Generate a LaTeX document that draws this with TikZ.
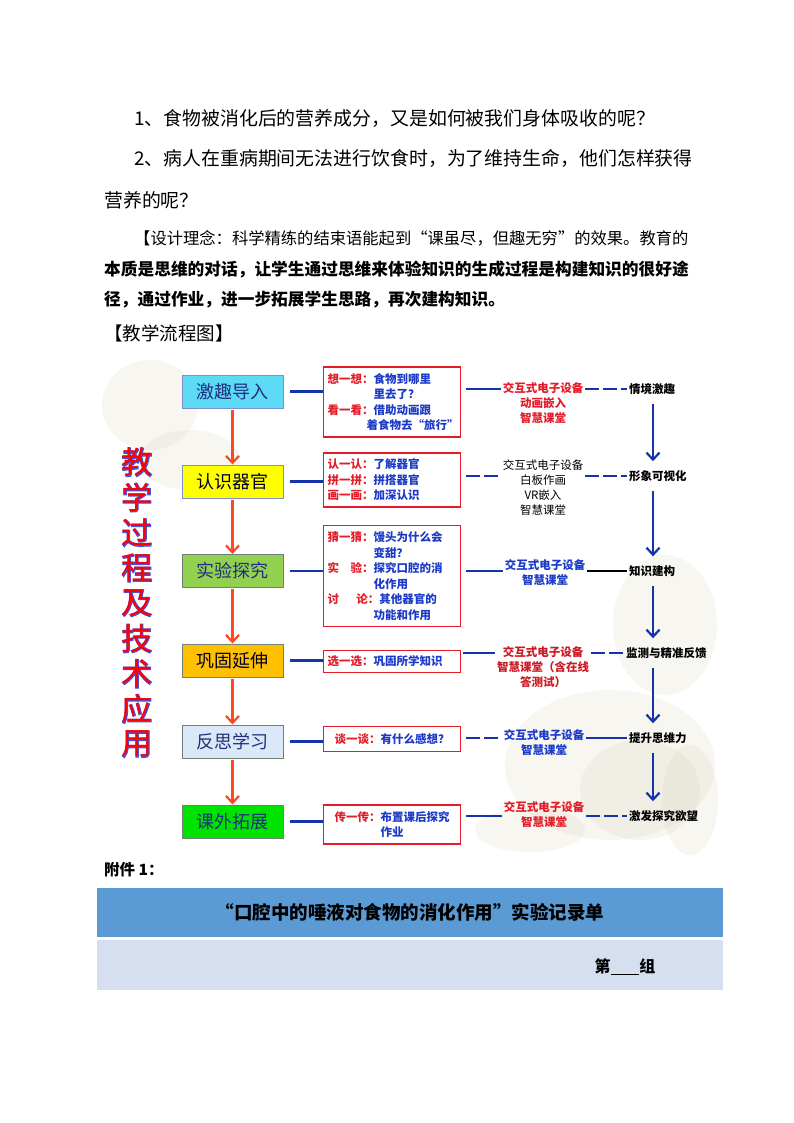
\documentclass[tikz,border=0pt]{standalone}
\usepackage{fontspec}
\setmainfont{Noto Sans CJK SC}
\newfontfamily\titlefont{Noto Sans CJK SC}[FakeBold=4]
\usepackage{xcolor}
\usetikzlibrary{calc,arrows.meta}
\definecolor{flowRed}{RGB}{255,72,32}
\definecolor{flowBlue}{RGB}{22,52,170}
\definecolor{tagRed}{RGB}{228,28,40}
\definecolor{tipBlue}{RGB}{28,58,200}
\definecolor{stageInk}{RGB}{32,48,125}
\definecolor{stageEdge}{RGB}{112,128,120}
\definecolor{stageCyan}{RGB}{92,218,246}
\definecolor{stageYellow}{RGB}{255,255,0}
\definecolor{stageLime}{RGB}{146,208,80}
\definecolor{stageOrange}{RGB}{255,192,0}
\definecolor{stagePale}{RGB}{218,232,248}
\definecolor{stageGreen}{RGB}{0,226,0}
\definecolor{washTone}{RGB}{206,202,170}
\definecolor{barBlue}{RGB}{91,155,213}
\definecolor{barPale}{RGB}{214,223,240}
\definecolor{titleEdge}{RGB}{70,80,225}
\newcommand{\Lbl}[1]{\textcolor{tagRed}{#1}}
\tikzset{
  stagebox/.style={minimum width=101pt,minimum height=33pt,inner sep=0pt,line width=1pt,draw=stageEdge,text=stageInk,font=\fontsize{18}{20}\selectfont},
  tipbox/.style={draw=tagRed,line width=1.1pt,fill=white,inner sep=4pt,text width=129pt,align=left,text=tipBlue,font=\bfseries\fontsize{11.5}{15.5}\selectfont},
  techtext/.style={align=center,inner sep=2pt,font=\bfseries\fontsize{11.5}{15}\selectfont},
  goal/.style={anchor=west,inner sep=2pt,font=\bfseries\fontsize{11.5}{14}\selectfont},
  linkline/.style={draw=flowBlue,line width=2.2pt},
  linkdash/.style={linkline,dash pattern=on 14pt off 4pt},
  flowarrow/.style={draw=flowRed,line width=2.2pt,-{Straight Barb[length=7pt,width=13pt]}},
  goalarrow/.style={draw=flowBlue,line width=2.2pt,-{Straight Barb[length=7pt,width=13pt]},shorten <=7pt,shorten >=7pt},
  titleedge/.style={inner sep=0pt,text=titleEdge,font=\titlefont\fontsize{31}{31}\selectfont},
  titlechar/.style={inner sep=0pt,text=red,font=\fontsize{31}{31}\selectfont},
  wash/.style={fill=washTone,opacity=0.16},
  prose/.style={anchor=west,inner sep=0pt,font=\fontsize{18.9}{22}\selectfont},
  notetext/.style={anchor=west,inner sep=0pt,font=\fontsize{16.7}{20}\selectfont},
}

\begin{document}
\begin{tikzpicture}[x=1pt,y=-1pt]
\useasboundingbox[fill=white] (0,0) rectangle (794,1123);

\node[prose] (q1) at (134,118) {1、食物被消化后的营养成分，又是如何被我们身体吸收的呢？};
\node[prose] (q2) at (134,158) {2、病人在重病期间无法进行饮食时，为了维持生命，他们怎样获得};
\node[prose] (q3) at (104,200) {营养的呢？};
\node[notetext,font=\fontsize{16.3}{20}\selectfont] (n1) at (134,238) {【设计理念：科学精练的结束语能起到“课虽尽，但趣无穷”的效果。教育的};
\node[notetext,font=\bfseries\fontsize{16.7}{20}\selectfont] (n2) at (104,270) {本质是思维的对话，让学生通过思维来体验知识的生成过程是构建知识的很好途};
\node[notetext,font=\bfseries\fontsize{16.7}{20}\selectfont] (n3) at (104,300) {径，通过作业，进一步拓展学生思路，再次建构知识。};
\node[notetext,font=\fontsize{18.5}{20}\selectfont] (flowtitle) at (104,333) {【教学流程图】};

\fill[wash] (150,405) ellipse (48 and 45);
\fill[wash] (190,460) ellipse (50 and 30);
\fill[wash] (665,625) ellipse (52 and 70);
\fill[wash] (610,765) ellipse (105 and 75);
\fill[wash] (640,790) ellipse (60 and 50);
\fill[wash] (690,800) ellipse (28 and 55);
\fill[wash] (530,830) ellipse (55 and 22);

\foreach \ch [count=\k] in {教,学,过,程,及,技,术,应,用}{
  \node[titleedge] (vb\k) at (137,427+35.25*\k) {\ch};
  \node[titlechar] (v\k) at (137,427+35.25*\k) {\ch};
}

\node[stagebox,fill=stageCyan,draw=flowBlue!55] (s1) at (232.5,391.5) {激趣导入};
\node[stagebox,fill=stageYellow,draw=flowBlue!55,text=black!85!blue] (s2) at (232.5,481.5) {认识器官};
\node[stagebox,fill=stageLime] (s3) at (232.5,571) {实验探究};
\node[stagebox,fill=stageOrange,text=black!85!blue] (s4) at (232.5,660.5) {巩固延伸};
\node[stagebox,fill=stagePale] (s5) at (232.5,741.5) {反思学习};
\node[stagebox,fill=stageGreen] (s6) at (232.5,821.5) {课外拓展};

\foreach \a/\b in {s1/s2,s2/s3,s3/s4,s4/s5,s5/s6}
  \draw[flowarrow,shorten <=1pt] (\a.south) -- (\b.north);

\node[tipbox,minimum height=70pt] (d1) at (392,402) {\Lbl{想一想：}食物到哪里\\\hspace*{4em}里去了？\\\Lbl{看一看：}借助动画跟\\\hspace*{3.4em}着食物去“旅行”};
\node[tipbox,minimum height=54pt] (d2) at (392,480) {\Lbl{认一认：}了解器官\\\Lbl{拼一拼：}拼搭器官\\\Lbl{画一画：}加深认识};
\node[tipbox,minimum height=101pt] (d3) at (392,576) {\Lbl{猜一猜：}馒头为什么会\\\hspace*{4em}变甜？\\\Lbl{实\hspace{1em}验：}探究口腔的消\\\hspace*{4em}化作用\\\Lbl{讨\hspace{1.5em}论：}其他器官的\\\hspace*{4em}功能和作用};
\node[tipbox,minimum height=22pt] (d4) at (392,661.5) {\Lbl{选一选：}巩固所学知识};
\node[tipbox,minimum height=25pt,align=center] (d5) at (392,739) {\Lbl{谈一谈：}有什么感想？};
\node[tipbox,minimum height=39pt,align=center] (d6) at (392,824.5) {\Lbl{传一传：}布置课后探究\\作业};

\foreach \k in {1,...,6}
  \draw[linkline,shorten <=6pt] (s\k.east) -- (s\k.east -| d\k.west);

\node[techtext,text=tagRed] (t1) at (543,403) {交互式电子设备\\动画嵌入\\智慧课堂};
\node[techtext,text=black,font=\fontsize{11.5}{15}\selectfont] (t2) at (543,488) {交互式电子设备\\白板作画\\VR嵌入\\智慧课堂};
\node[techtext,text=tipBlue] (t3) at (545,572.5) {交互式电子设备\\智慧课堂};
\node[techtext,text=tagRed!90!black] (t4) at (543,667) {交互式电子设备\\智慧课堂（含在线\\答测试）};
\node[techtext,text=tipBlue] (t5) at (544,743) {交互式电子设备\\智慧课堂};
\node[techtext,text=tagRed] (t6) at (544,815) {交互式电子设备\\智慧课堂};

\node[goal] (g1) at (627,389) {情境激趣};
\node[goal] (g2) at (627,476) {形象可视化};
\node[goal] (g3) at (627,571) {知识建构};
\node[goal] (g4) at (624,653) {监测与精准反馈};
\node[goal] (g5) at (627,738) {提升思维力};
\node[goal] (g6) at (627,816) {激发探究欲望};

\draw[linkline,shorten <=5pt] (d1.east |- g1) -- (t1.west |- g1);
\draw[linkdash,shorten <=5pt] (d2.east |- g2) -- (t2.west |- g2);
\draw[linkline,shorten <=5pt] (d3.east |- g3) -- (t3.west |- g3);
\draw[linkline,shorten <=2pt] (d4.east |- g4) -- (t4.west |- g4);
\draw[linkdash,shorten <=5pt] (d5.east |- g5) -- (t5.west |- g5);
\draw[linkline,shorten <=5pt] (d6.east |- g6) -- (t6.west |- g6);

\draw[linkdash] (t1.east |- g1) -- (g1.west);
\draw[linkdash] (t2.east |- g2) -- (g2.west);
\draw[linkline,draw=black] (t3.east |- g3) -- (g3.west);
\draw[linkdash] (t4.east |- g4) -- (g4.west);
\draw[linkline] (t5.east |- g5) -- (g5.west);
\draw[linkdash] (t6.east |- g6) -- (g6.west);

\coordinate (axis) at (653,0);
\foreach \a/\b in {g1/g2,g2/g3,g3/g4,g4/g5,g5/g6}
  \draw[goalarrow] (\a.south -| axis) -- (\b.north -| axis);

\node[notetext,font=\bfseries\fontsize{15.5}{17}\selectfont] (annex) at (104,870) {附件 1：};
\node[fill=barBlue,minimum width=626pt,minimum height=49pt,inner sep=0pt,font=\bfseries\fontsize{18.5}{20}\selectfont] (head) at (410,912.5) {“口腔中的唾液对食物的消化作用”实验记录单};
\node[fill=barPale,minimum width=626pt,minimum height=50pt,inner sep=0pt] (group) at (410,965) {};
\node[font=\bfseries\fontsize{16}{18}\selectfont,inner sep=0pt] (groupno) at (625,967) {第\underline{\hspace{1.8em}}组};
\end{tikzpicture}
\end{document}
